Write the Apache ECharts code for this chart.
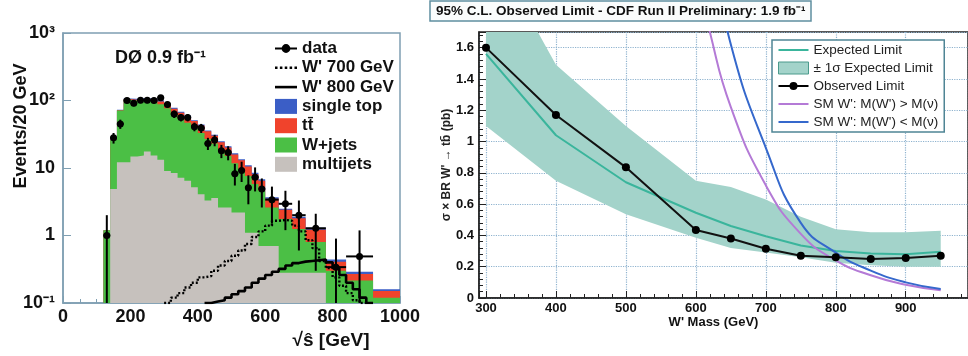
<!DOCTYPE html>
<html>
<head>
<meta charset="utf-8">
<script src="https://cdn.jsdelivr.net/npm/echarts@6/dist/echarts.min.js"></script>
<style>
  html, body { margin: 0; padding: 0; background: #fff; }
  #chart { width: 968px; height: 356px; }
</style>
</head>
<body>
<div id="chart"></div>
<script>
// ---------- left panel: D0 sqrt(s-hat), events / 20 GeV ----------
const binEdges = [120, 140, 160, 180, 200, 220, 240, 260, 280, 300, 320, 340, 360, 380, 400, 420,
  440, 460, 480, 500, 520, 540, 560, 580, 600, 640, 680, 720, 780, 840, 920, 1000];
const multijets = [0, 4.9, 12.2, 12.2, 14.8, 15.3, 17.6, 15.3, 13.2, 9.0, 8.4, 7.2, 6.5, 5.2, 4.1, 3.3,
  3.6, 2.6, 2.6, 2.2, 2.2, 1.1, 1.1, 0.7, 0.7, 0.28, 0.28, 0.28, 0, 0, 0];
const wjets = [1.2, 21.1, 58.8, 90.8, 85.2, 86.7, 84.4, 84.7, 74.8, 68, 55.6, 46.8, 40.5, 33.8, 28.9, 23.7,
  19.4, 15.4, 12.4, 9.6, 7.3, 6.5, 4.7, 3.9, 1.9, 1.47, 0.97, 0.52, 0.30, 0.215, 0.12];
const ttbar = [0, 0.5, 1, 2, 3, 3, 3, 4, 9, 10, 11.5, 12, 11, 10.5, 9.5, 8,
  7, 6, 5.2, 4, 3.5, 2.9, 2.3, 1.9, 0.9, 0.65, 0.55, 0.42, 0.11, 0.055, 0.03];
const singleTop = [0, 0.5, 1, 2, 3, 3, 3, 3, 3, 3, 2.5, 2, 2, 1.5, 1.5, 1,
  1, 1, 0.8, 0.7, 0.5, 0.5, 0.4, 0.3, 0.2, 0.1, 0.1, 0.08, 0.03, 0.02, 0.01];

// data points (one per bin, last bin empty) with error bar ends
const dataVal = [1.0, 28, 45, 100, 91, 101, 101, 100, 110, 87, 63, 56, 56, 41, 39, 23,
  26, 18, 17, 8.2, 9.2, 5.1, 7.3, 4.9, 3.4, 2.95, 2.0, 1.28, 0.34, 0.49];
const dataLo = [0, 23, 38, 90, 82, 91, 91, 90, 100, 78, 55, 49, 49, 35, 33, 18.5,
  21, 14, 13, 5.5, 6.2, 2.9, 4.5, 2.6, 1.5, 1.2, 0.6, 0.3, 0.1, 0];
const dataHi = [2.0, 33, 52, 110, 100, 111, 111, 110, 120, 96, 71, 63, 63, 47, 45, 28,
  31, 22, 21, 11.5, 12.4, 7.8, 10.2, 7.0, 5.3, 4.6, 3.3, 2.1, 0.9, 1.19];

// W' signal shapes, 20 GeV bins
const wp700Start = 300;
const wp700 = [0.1, 0.12, 0.14, 0.17, 0.2, 0.24, 0.25, 0.3, 0.36, 0.42, 0.5, 0.6, 0.75, 0.95, 1.15, 1.4,
  1.65, 1.7, 1.65, 1.4, 1.15, 0.85, 0.65, 0.42, 0.33, 0.24, 0.18, 0.14, 0.11, 0.1, 0.09];
const wp800Start = 420;
const wp800 = [0.1, 0.105, 0.11, 0.12, 0.135, 0.15, 0.17, 0.2, 0.23, 0.26, 0.29, 0.32, 0.36, 0.39,
  0.41, 0.42, 0.43, 0.44, 0.4, 0.33, 0.26, 0.2, 0.16, 0.12, 0.1];

// ---------- right panel: CDF 95% C.L. limit ----------
const limitMass = [300, 400, 500, 600, 650, 700, 750, 800, 850, 900, 950];
const observedLimit = [1.6, 1.17, 0.835, 0.435, 0.38, 0.315, 0.27, 0.26, 0.25, 0.255, 0.27];
const expectedLimit = [1.56, 1.04, 0.74, 0.545, 0.46, 0.395, 0.335, 0.30, 0.285, 0.28, 0.295];
const bandLow = [1.10, 0.75, 0.535, 0.385, 0.32, 0.29, 0.26, 0.225, 0.21, 0.20, 0.20];
const bandHigh = [2.3, 1.49, 1.10, 0.75, 0.71, 0.63, 0.52, 0.44, 0.42, 0.42, 0.43];
const smHeavyNuMass = [600, 620, 650, 700, 750, 800, 850, 900, 950];
const smHeavyNu = [2.1, 1.7, 1.22, 0.72, 0.41, 0.24, 0.145, 0.085, 0.05];
const smLightNuMass = [620, 650, 700, 750, 800, 850, 900, 950];
const smLightNu = [2.3, 1.62, 0.96, 0.48, 0.29, 0.175, 0.1, 0.058];

const FONT = 'Liberation Sans';
const frameCol = '#7f9fb2';
const bandCol = '#a3d3ca';

function stepData(edges, vals) {
  const pts = vals.map((v, i) => [edges[i], Math.max(v, 1e-3)]);
  pts.push([edges[vals.length], Math.max(vals[vals.length - 1], 1e-3)]);
  return pts;
}
function uniformEdges(start, n) {
  const e = [];
  for (let i = 0; i <= n; i++) e.push(start + 20 * i);
  return e;
}
function cumulate(a, b) { return a.map((v, i) => v + b[i]); }

const cumGray = multijets;
const cumGreen = cumulate(cumGray, wjets);
const cumRed = cumulate(cumGreen, ttbar);
const cumTotal = cumulate(cumRed, singleTop);

function histSeries(name, vals, color) {
  return {
    name, type: 'line', xAxisIndex: 0, yAxisIndex: 0, step: 'end',
    data: stepData(binEdges, vals), color,
    symbol: 'none', lineStyle: { width: 0 },
    areaStyle: { color, opacity: 1, origin: 'start' }, clip: true, silent: true
  };
}

const dataPoints = dataVal.map((v, i) => [
  (binEdges[i] + binEdges[i + 1]) / 2, v, dataLo[i], dataHi[i], binEdges[i], binEdges[i + 1]
]);

function renderData(params, api) {
  const x = api.value(0), y = api.value(1);
  const pt = api.coord([x, y]);
  const top = api.coord([x, api.value(3)]);
  const bot = api.coord([x, Math.max(api.value(2), 0.01)]);
  const left = api.coord([api.value(4), y]);
  const right = api.coord([api.value(5), y]);
  const st = { stroke: '#000', lineWidth: 2 };
  return {
    type: 'group', children: [
      { type: 'line', shape: { x1: pt[0], y1: top[1], x2: pt[0], y2: bot[1] }, style: st },
      { type: 'line', shape: { x1: left[0], y1: pt[1], x2: right[0], y2: pt[1] }, style: st },
      { type: 'circle', shape: { cx: pt[0], cy: pt[1], r: 3.5 }, style: { fill: '#000' } }
    ]
  };
}

// +-1 sigma band drawn as one polygon through the band edges
function renderBand(params, api) {
  if (params.dataIndex !== 0) return null;
  const up = limitMass.map((m, i) => api.coord([m, bandHigh[i]]));
  const dn = limitMass.map((m, i) => api.coord([m, bandLow[i]])).reverse();
  return { type: 'polygon', shape: { points: up.concat(dn) }, style: { fill: bandCol } };
}

const zip = (xs, ys) => xs.map((x, i) => [x, ys[i]]);
const supers = { '-1': '10⁻¹', '0': '1', '1': '10', '2': '10²', '3': '10³' };

const ICON_SOLID_L = 'path://M0,0h22v2.6h-22z';
const ICON_DOT_L = 'path://M0,0h2.6v2.6h-2.6z M5,0h2.6v2.6h-2.6z M10,0h2.6v2.6h-2.6z M15,0h2.6v2.6h-2.6z M20,0h2.6v2.6h-2.6z';
const ICON_DATA = 'path://M0,9h20v2h-20z M14,10a4,4 0 1,1 -8,0a4,4 0 1,1 8,0z';
const ICON_LINE_R = 'path://M0,0h30v2h-30z';
const ICON_OBS = 'path://M0,9h30v2h-30z M19,10a4,4 0 1,1 -8,0a4,4 0 1,1 8,0z';

const chart = echarts.init(document.getElementById('chart'));
chart.setOption({
  animation: false,
  title: [
    {
      text: '95% C.L. Observed Limit - CDF Run II Preliminary: 1.9 fb⁻¹',
      left: 430, top: 1, padding: [3, 6, 3, 6],
      borderColor: '#5f8fa0', borderWidth: 1.5, backgroundColor: '#fafcfc',
      textStyle: { fontFamily: FONT, fontSize: 13.5, fontWeight: 'bold', color: '#111' }
    },
    {
      text: 'DØ 0.9 fb⁻¹', left: 115, top: 49, padding: 0,
      textStyle: { fontFamily: FONT, fontSize: 18, fontWeight: 'bold', color: '#111' }
    }
  ],
  legend: [
    {
      left: 270, top: 35, orient: 'vertical', selectedMode: false,
      itemWidth: 22, itemHeight: 15, itemGap: 2.3,
      textStyle: { fontFamily: FONT, fontSize: 17, fontWeight: 'bold', color: '#111' },
      data: [
        { name: 'data', icon: ICON_DATA },
        { name: "W' 700 GeV", icon: ICON_DOT_L }, { name: "W' 800 GeV", icon: ICON_SOLID_L },
        { name: 'single top', icon: 'rect' }, { name: 'tt̄', icon: 'rect' },
        { name: 'W+jets', icon: 'rect' }, { name: 'multijets', icon: 'rect' }
      ]
    },
    {
      left: 772, top: 40, orient: 'vertical', selectedMode: false,
      backgroundColor: '#fff', borderColor: '#4f8595', borderWidth: 1.5, borderRadius: 0,
      padding: [3, 6, 3, 6], itemWidth: 30, itemHeight: 12, itemGap: 4,
      textStyle: { fontFamily: FONT, fontSize: 13.5, color: '#222' },
      data: [
        { name: 'Expected Limit', icon: ICON_LINE_R },
        { name: '± 1σ Expected Limit', icon: 'rect', itemStyle: { borderColor: '#4a9a8c', borderWidth: 1 } },
        { name: 'Observed Limit', icon: ICON_OBS },
        { name: "SM W': M(W') > M(ν)", icon: ICON_LINE_R },
        { name: "SM W': M(W') < M(ν)", icon: ICON_LINE_R }
      ]
    }
  ],
  graphic: [
    {
      type: 'text', x: 21, y: 126, rotation: Math.PI / 2,
      style: { text: 'Events/20 GeV', fontFamily: FONT, fontSize: 18, fontWeight: 'bold',
        fill: '#111', align: 'center', verticalAlign: 'middle' }
    },
    {
      type: 'text', x: 331, y: 341,
      style: { text: '√ŝ [GeV]', fontFamily: FONT, fontSize: 19, fontWeight: 'bold',
        fill: '#111', align: 'center', verticalAlign: 'middle' }
    }
  ],
  grid: [
    { left: 63, top: 33, width: 337, height: 270, show: true, borderColor: frameCol, borderWidth: 1.5 },
    { left: 479, top: 32, right: 0, bottom: 58, show: true, borderColor: '#222', borderWidth: 1.5 }
  ],
  xAxis: [
    {
      type: 'value', gridIndex: 0, min: 0, max: 1000, interval: 200,
      axisLine: { lineStyle: { color: frameCol, width: 1.5 } },
      axisTick: { inside: true, length: 7, lineStyle: { color: frameCol } },
      minorTick: { show: true, splitNumber: 4, length: 4, lineStyle: { color: frameCol } },
      splitLine: { show: false },
      axisLabel: { color: '#111', fontFamily: FONT, fontSize: 18, fontWeight: 'bold', margin: 5,
        formatter: v => String(v) }
    },
    {
      type: 'value', gridIndex: 1, min: 290, max: 989, splitNumber: 7,
      name: "W' Mass (GeV)", nameLocation: 'middle', nameGap: 18, nameMoveOverlap: false,
      nameTextStyle: { fontFamily: FONT, fontSize: 13, fontWeight: 'bold', color: '#111', padding: [0, 20, 0, 0] },
      axisLine: { lineStyle: { color: '#222', width: 1.5 } },
      axisTick: { inside: true, length: 7, lineStyle: { color: '#222' } },
      minorTick: { show: true, splitNumber: 5, length: 4, lineStyle: { color: '#222' } },
      splitLine: { show: true, lineStyle: { type: 'dotted', color: '#8fb3cf', width: 1.2 } },
      axisLabel: { showMinLabel: false, showMaxLabel: false, color: '#111', fontFamily: FONT,
        fontSize: 13, fontWeight: 'bold', margin: 4 }
    }
  ],
  yAxis: [
    {
      type: 'log', gridIndex: 0, min: 0.1, max: 1000, logBase: 10,
      axisLine: { show: true, lineStyle: { color: frameCol, width: 1.5 } },
      axisTick: { show: true, inside: true, length: 8, lineStyle: { color: frameCol } },
      splitLine: { show: false },
      axisLabel: {
        color: '#111', fontFamily: FONT, fontSize: 18, fontWeight: 'bold', margin: 8,
        formatter: v => supers[String(Math.round(Math.log10(v)))] || ''
      }
    },
    {
      type: 'value', gridIndex: 1, min: 0, max: 1.7, interval: 0.2,
      name: "σ × BR W' → tb̄ (pb)", nameLocation: 'middle', nameGap: 26, nameMoveOverlap: false,
      nameTextStyle: { fontFamily: FONT, fontSize: 12, fontWeight: 'bold', color: '#222' },
      axisLine: { show: true, lineStyle: { color: '#222', width: 1.5 } },
      axisTick: { show: true, inside: true, length: 7, lineStyle: { color: '#222' } },
      minorTick: { show: true, splitNumber: 5, length: 4, lineStyle: { color: '#222' } },
      splitLine: { show: true, lineStyle: { type: 'dotted', color: '#8fb3cf', width: 1.2 } },
      axisLabel: { showMaxLabel: false, color: '#111', fontFamily: FONT, fontSize: 13,
        fontWeight: 'bold', margin: 5 }
    }
  ],
  series: [
    histSeries('single top', cumTotal, '#3b5ec6'),
    histSeries('tt̄', cumRed, '#f0432c'),
    histSeries('W+jets', cumGreen, '#4bbf45'),
    histSeries('multijets', cumGray, '#c6c1bd'),
    {
      name: "W' 700 GeV", type: 'line', xAxisIndex: 0, yAxisIndex: 0, step: 'end', z: 5,
      data: stepData(uniformEdges(wp700Start, wp700.length), wp700), color: '#000',
      symbol: 'none', lineStyle: { width: 2.4, type: [2, 2], color: '#000' }, clip: true
    },
    {
      name: "W' 800 GeV", type: 'line', xAxisIndex: 0, yAxisIndex: 0, step: 'end', z: 5,
      data: stepData(uniformEdges(wp800Start, wp800.length), wp800), color: '#000',
      symbol: 'none', lineStyle: { width: 2.6, color: '#000' }, clip: true
    },
    {
      name: 'data', type: 'custom', xAxisIndex: 0, yAxisIndex: 0, clip: true, z: 10,
      renderItem: renderData, data: dataPoints, encode: { x: 0, y: 1 }, color: '#000'
    },
    // right panel
    {
      name: '± 1σ Expected Limit', type: 'custom', xAxisIndex: 1, yAxisIndex: 1, clip: true,
      renderItem: renderBand, color: bandCol, silent: true,
      data: limitMass.map((m, i) => [m, bandLow[i], bandHigh[i]]), encode: { x: 0, y: 1 }
    },
    {
      name: 'Expected Limit', type: 'line', xAxisIndex: 1, yAxisIndex: 1, z: 4,
      data: zip(limitMass, expectedLimit), color: '#3ab59c', symbol: 'none',
      lineStyle: { width: 2 }, clip: true
    },
    {
      name: "SM W': M(W') > M(ν)", type: 'line', xAxisIndex: 1, yAxisIndex: 1, smooth: true, z: 4,
      data: zip(smHeavyNuMass, smHeavyNu), color: '#b47ad6', symbol: 'none',
      lineStyle: { width: 2 }, clip: true
    },
    {
      name: "SM W': M(W') < M(ν)", type: 'line', xAxisIndex: 1, yAxisIndex: 1, smooth: true, z: 4,
      data: zip(smLightNuMass, smLightNu), color: '#3568cc', symbol: 'none',
      lineStyle: { width: 2 }, clip: true
    },
    {
      name: 'Observed Limit', type: 'line', xAxisIndex: 1, yAxisIndex: 1, z: 5,
      data: zip(limitMass, observedLimit), color: '#000', symbol: 'circle', symbolSize: 8,
      lineStyle: { width: 2, color: '#111' }, clip: true
    }
  ]
});
</script>
</body>
</html>
